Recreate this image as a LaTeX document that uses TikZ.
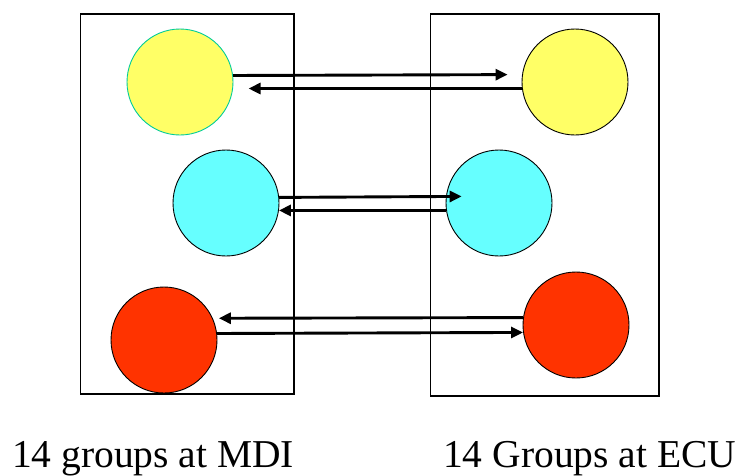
\documentclass[tikz,border=0pt]{standalone}
\usepackage{fontspec}
\setmainfont{Liberation Serif}
\usetikzlibrary{arrows.meta}
\definecolor{grpyellow}{RGB}{255,255,102}
\definecolor{grpcyan}{RGB}{102,255,255}
\definecolor{grpred}{RGB}{255,51,0}
\definecolor{rimteal}{RGB}{0,204,153}
\tikzset{
  sitebox/.style={draw=black, line width=1.2pt},
  group/.style={circle, draw=black, line width=0.9pt, minimum size=106pt, inner sep=0pt},
  link/.style={line width=2.9pt, -{Triangle[length=12pt,width=11pt]}},
  caption/.style={anchor=base west, inner sep=0pt, font=\fontsize{39.5}{42}\selectfont}
}
\begin{document}
\begin{tikzpicture}[x=1pt,y=-1pt]
\useasboundingbox (0,0) rectangle (743,475);
% the two sites
\draw[sitebox] (80.5,14) rectangle (294,394);
\draw[sitebox] (430.5,14) rectangle (659,396);
% groups at each site
\node[group, fill=grpyellow, draw=rimteal] (yl) at (180,82) {};
\node[group, fill=grpyellow] (yr) at (575,82) {};
\node[group, fill=grpcyan] (cl) at (226,203) {};
\node[group, fill=grpcyan] (cr) at (499,203) {};
\node[group, fill=grpred] (rl) at (164,340) {};
\node[group, fill=grpred] (rr) at (576,325) {};
% exchanges between paired groups
\draw[link, shorten >=14.5pt] (yl.7.6) -- (yr.172.4);
\draw[link, shorten >=15.5pt] (yr.187.6) -- (yl.-7.6);
\draw[link, shorten >=-15.7pt] (cl.6.5) -- (cr.173.5);
\draw[link] (cr.188.7) -- (cl.-8.7);
\draw[link, shorten >=6pt] (rr.172.4) -- (rl.24.5);
\draw[link] (rl.7.6) -- (rr.188.7);
% captions
\node[caption] (capl) at (12,467) {14 groups at MDI};
\node[caption] (capr) at (443,467) {14 Groups at ECU};
\end{tikzpicture}
\end{document}
